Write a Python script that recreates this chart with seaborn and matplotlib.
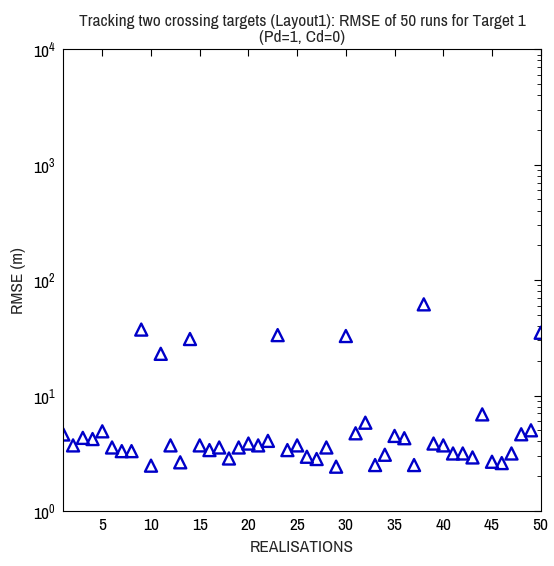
import matplotlib
matplotlib.use("Agg")
import matplotlib.pyplot as plt
import seaborn as sns
import pandas as pd

realisations = list(range(1, 51))
rmse = [4.6, 3.7, 4.3, 4.2, 4.9, 3.55, 3.3, 3.3, 37.3, 2.47,
        23.0, 3.7, 2.64, 30.9, 3.7, 3.37, 3.55, 2.85, 3.55, 3.84,
        3.7, 4.05, 33.4, 3.37, 3.7, 2.95, 2.82, 3.55, 2.42, 32.8,
        4.71, 5.82, 2.5, 3.07, 4.47, 4.27, 2.5, 61.7, 3.84, 3.7,
        3.15, 3.15, 2.91, 6.87, 2.67, 2.6, 3.15, 4.62, 5.0, 35.0]
xticks = [5, 10, 15, 20, 25, 30, 35, 40, 45, 50]
yticks = [1, 10, 100, 1000, 10000]

sns.set_style("white")
plt.rcParams['font.family'] = ['Archivo Narrow', 'DejaVu Sans']

df = pd.DataFrame({"realisation": realisations, "rmse": rmse})

fig = plt.figure(figsize=(5.54, 5.66), dpi=100)
ax = fig.add_axes([0.1143, 0.0972, 0.8617, 0.8157])
sns.scatterplot(data=df, x="realisation", y="rmse", ax=ax, marker="^", s=75,
                facecolors="none", edgecolor="#0000c8", linewidth=1.7, legend=False)
ax.set_yscale("log")
ax.set_xlim(1, 50)
ax.set_ylim(1, 10000)
ax.set_xticks(xticks)
ax.set_xticklabels([str(t) for t in xticks])
ax.set_yticks(yticks)
ax.tick_params(which="both", direction="in", top=True, right=True, labelsize=12.5, colors="black", pad=5)
ax.tick_params(which="major", length=5)
ax.tick_params(which="minor", length=3)
for s in ax.spines.values():
    s.set_color("black")
    s.set_linewidth(0.8)
ax.set_xlabel("REALISATIONS", fontsize=12.5, labelpad=5)
ax.set_ylabel("RMSE (m)", fontsize=12.5, labelpad=5)
ax.set_title("Tracking two crossing targets (Layout1): RMSE of 50 runs for Target 1\n(Pd=1, Cd=0)",
             fontsize=12.5, linespacing=1.1, pad=5)
fig.savefig("out.png", dpi=100)
